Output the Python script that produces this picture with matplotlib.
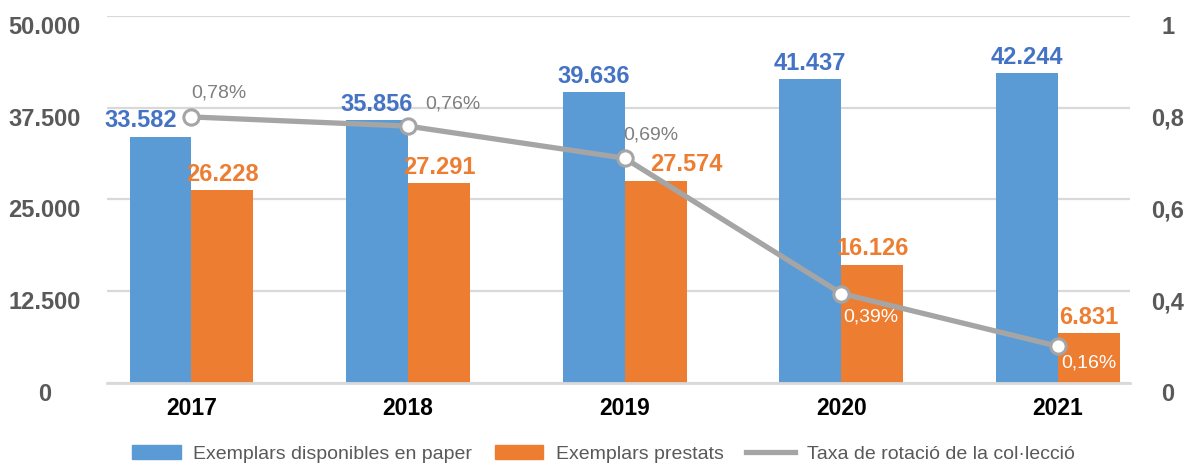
import numpy as np
import matplotlib
matplotlib.use('agg')
import matplotlib.pyplot as plt
import matplotlib.transforms as mtransforms
from matplotlib.patches import Patch
from matplotlib.lines import Line2D

years = ['2017', '2018', '2019', '2020', '2021']
disponibles = [33582, 35856, 39636, 41437, 42244]
prestats = [26228, 27291, 27574, 16126, 6831]
rotacio = [0.78, 0.76, 0.69, 0.39, 0.16]
left_ticks = [0, 12500, 25000, 37500, 50000]
right_ticks = [0, 0.4, 0.6, 0.8, 1]
right_labels = ['0', '0,4', '0,6', '0,8', '1']

BLUE = '#5B9BD5'
ORANGE = '#ED7D31'
GREY = '#A5A5A5'
TXT = '#595959'

plt.rcParams['font.family'] = ['Liberation Sans', 'DejaVu Sans']


def fmt(v):
    return f'{v:,}'.replace(',', '.')


fig = plt.figure(figsize=(11.86, 4.67), dpi=100)
ax = fig.add_axes([0.0902, 0.18, 0.8626, 0.7857])
x = np.arange(len(years))
w = 0.286

ax.bar(x - w / 2, disponibles, w, color=BLUE, zorder=2)
ax.bar(x + w / 2, prestats, w, color=ORANGE, zorder=2)

ax.set_xlim(-0.39, 4.333)
ax.set_ylim(0, 50000)
ax.set_yticks(left_ticks)
ax.set_yticklabels([])
ax.set_xticks(x)
ax.set_xticklabels(years, fontsize=16.5, fontweight='bold', color='black')
ax.tick_params(length=0)
ax.tick_params(axis='x', pad=10)
ax.grid(axis='y', color='#D9D9D9', lw=1.6, zorder=0)
for s in ['top', 'right', 'left']:
    ax.spines[s].set_visible(False)
ax.spines['bottom'].set_color('#D9D9D9')
ax.spines['bottom'].set_linewidth(2)

# left tick labels, a bit below each gridline
trans = mtransforms.blended_transform_factory(ax.transAxes, ax.transData)
for v in left_ticks:
    ax.text(-0.061, v, fmt(v), transform=trans, ha='center', va='top',
            fontsize=17, fontweight='bold', color=TXT)

# right axis, labels sit on the left gridlines
knots = [0, 0.4, 0.6, 0.8, 1]
idx = [0, 1, 2, 3, 4]


def fwd(v):
    return np.interp(v, knots, idx)


def inv(v):
    return np.interp(v, idx, knots)


ax2 = ax.twinx()
ax2.set_yscale('function', functions=(fwd, inv))
ax2.set_ylim(0, 1)
ax2.set_yticks(right_ticks)
ax2.set_yticklabels([])
ax2.tick_params(length=0)
for s in ax2.spines.values():
    s.set_visible(False)

trans2 = mtransforms.blended_transform_factory(ax2.transAxes, ax2.transData)
for v, lab in zip(right_ticks, right_labels):
    ax2.text(1.037, v, lab, transform=trans2, ha='center', va='top',
             fontsize=17, fontweight='bold', color=TXT)

ax2.plot(x, rotacio, color=GREY, lw=3.8, marker='o', ms=11, mfc='white',
         mec=GREY, mew=2.2, zorder=4)

# bar value labels (drawn on ax2 so they sit above the line)
for i in range(len(years)):
    dx = -14 if i == 0 else 0
    ax2.annotate(fmt(disponibles[i]), (x[i] - w / 2, disponibles[i]), xycoords=ax.transData,
                 xytext=(dx, 3), textcoords='offset points', ha='center', va='bottom',
                 fontsize=17, fontweight='bold', color='#4472C4', zorder=5)
    dx = 22 if i == 2 else 0
    ax2.annotate(fmt(prestats[i]), (x[i] + w / 2, prestats[i]), xycoords=ax.transData,
                 xytext=(dx, 3), textcoords='offset points', ha='center', va='bottom',
                 fontsize=17, fontweight='bold', color=ORANGE, zorder=5)

pct_off = [(19.5, 17), (32, 16), (19, 17), (21, -17), (22, -12)]
pct_col = ['#7F7F7F', '#7F7F7F', '#7F7F7F', 'white', 'white']
for i in range(len(years)):
    ax2.annotate(f'{rotacio[i]:.2f}%'.replace('.', ','), (x[i], rotacio[i]),
                 xytext=pct_off[i], textcoords='offset points', ha='center',
                 va='center', fontsize=14, color=pct_col[i], zorder=6)

handles = [Patch(color=BLUE), Patch(color=ORANGE), Line2D([], [], color=GREY, lw=3.8)]
labels = ['Exemplars disponibles en paper', 'Exemplars prestats',
          'Taxa de rotació de la col·lecció']
leg = fig.legend(handles, labels, loc='lower center', ncol=3, frameon=False,
                 bbox_to_anchor=(0.509, -0.028), handlelength=2.5,
                 handleheight=0.75, columnspacing=1.15, handletextpad=0.65,
                 fontsize=14)
for t in leg.get_texts():
    t.set_color(TXT)

fig.savefig('out.png', dpi=100)
